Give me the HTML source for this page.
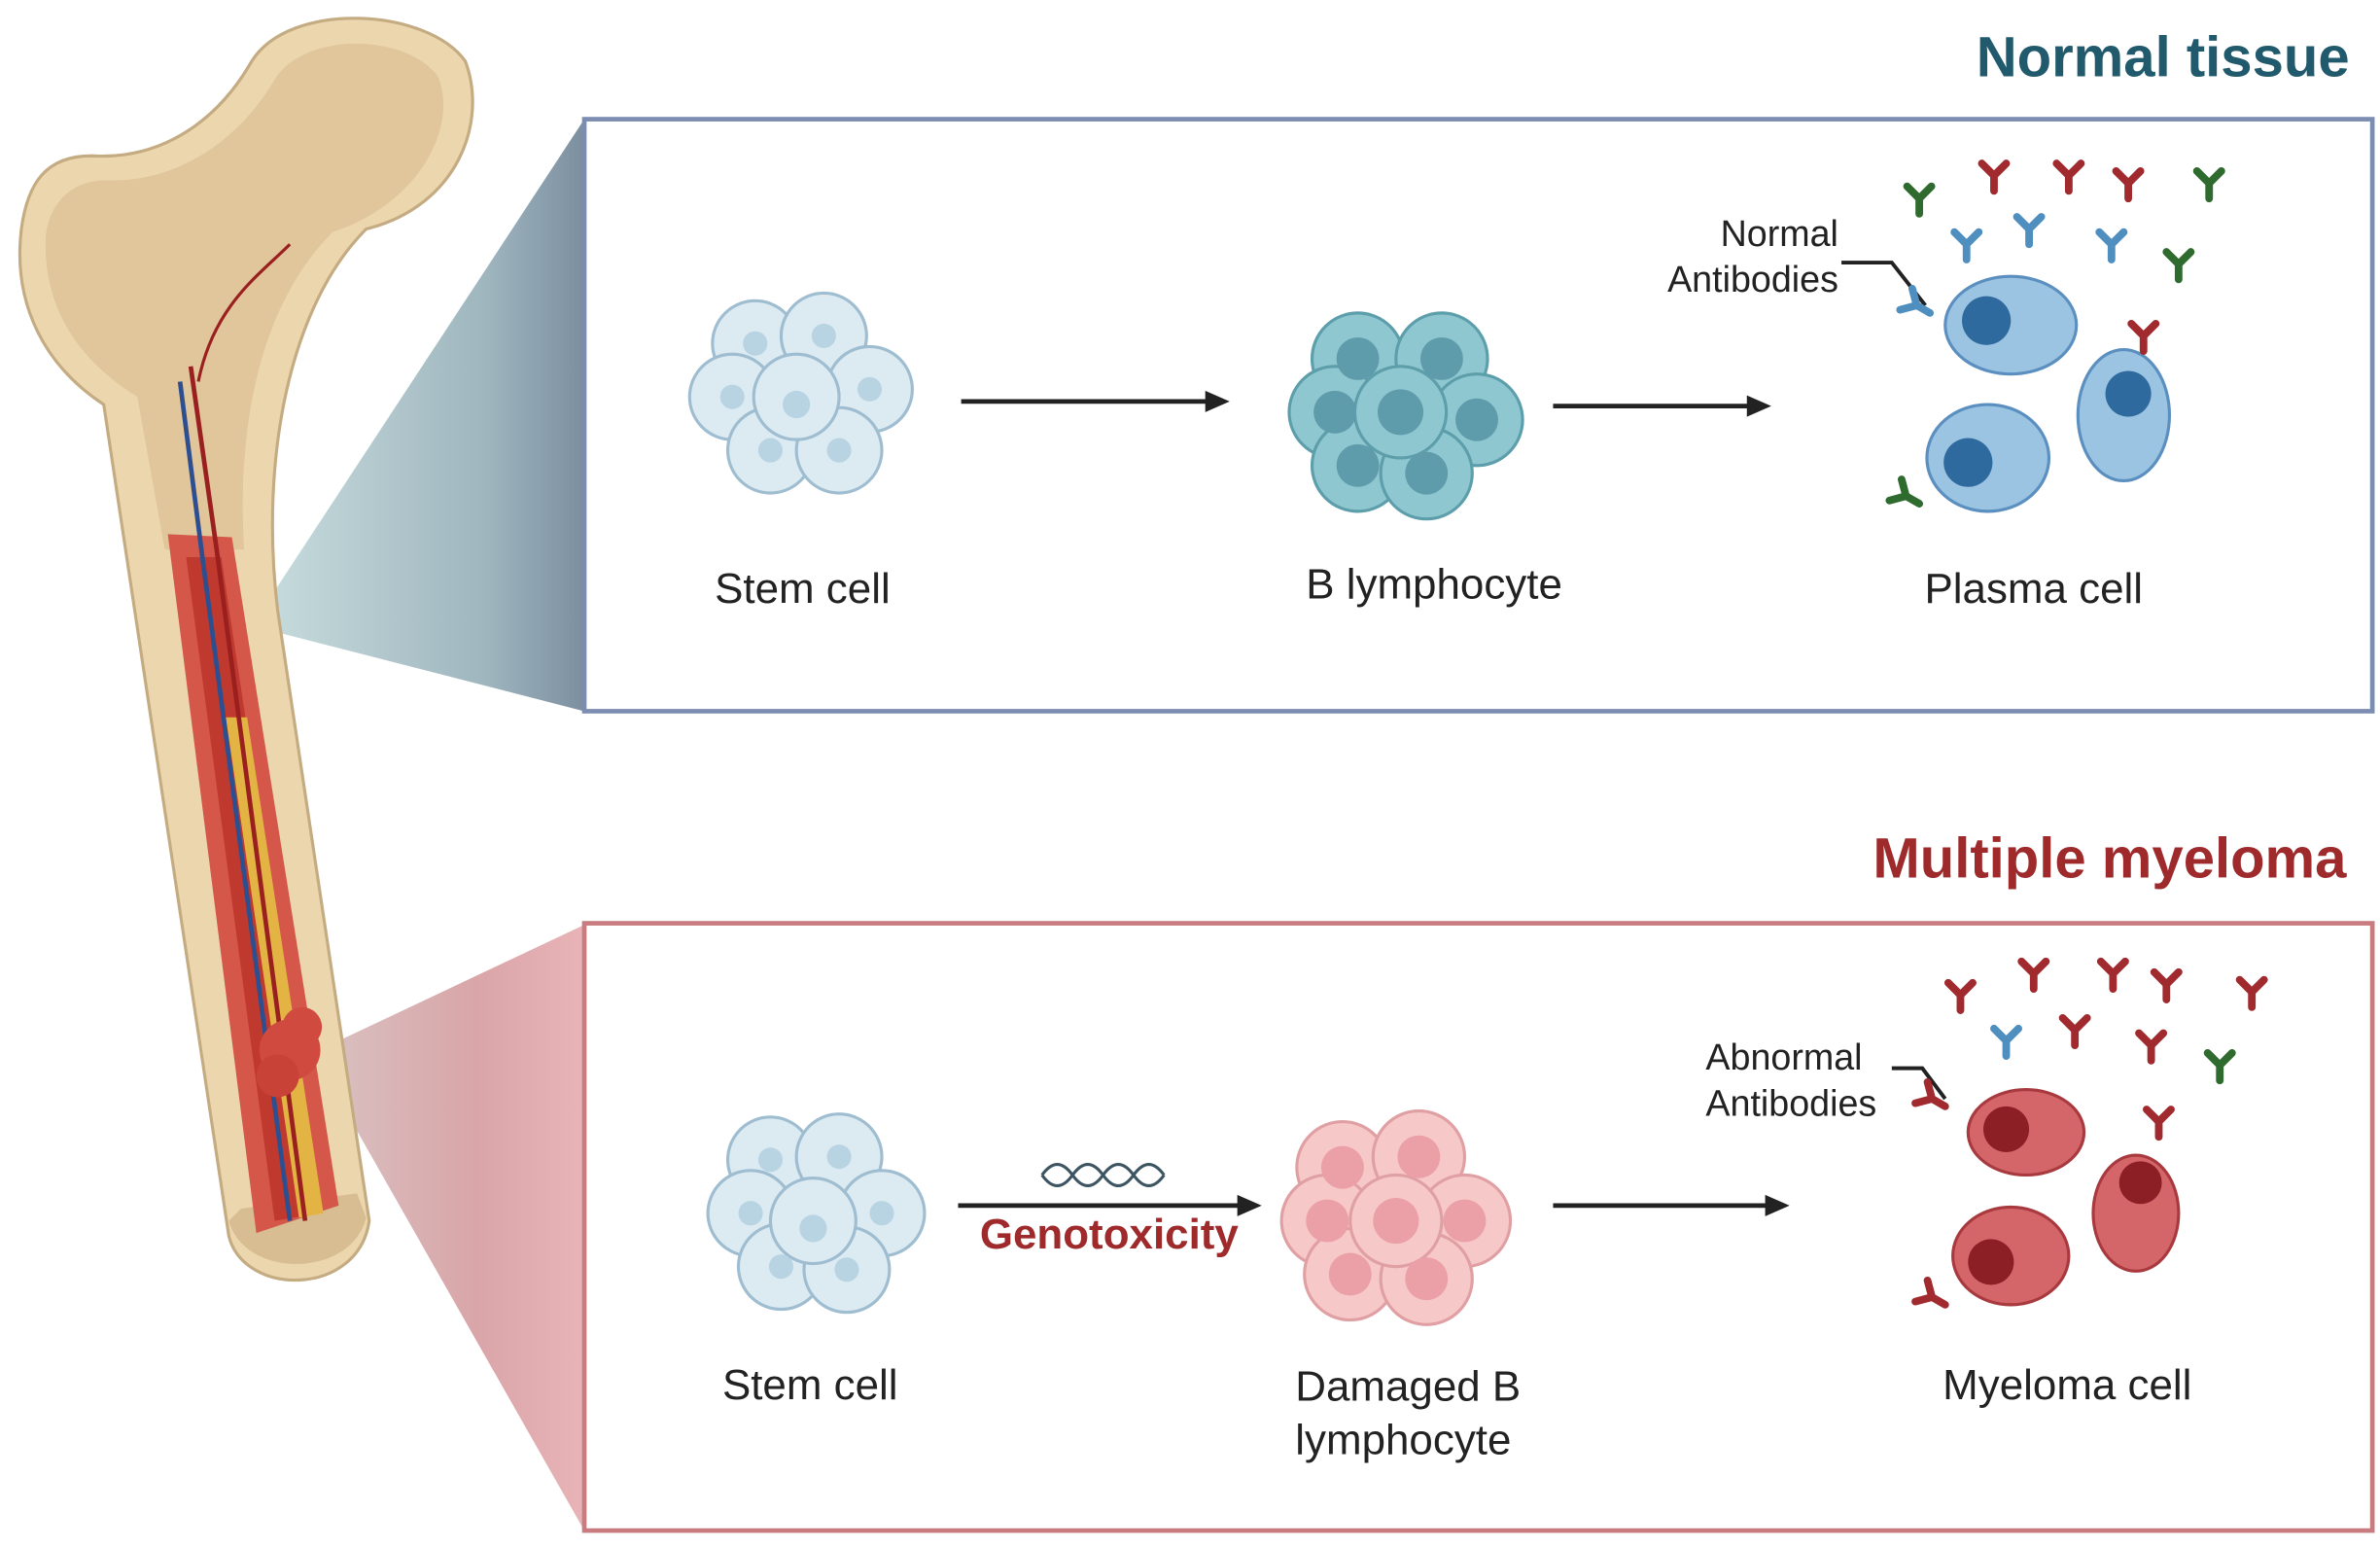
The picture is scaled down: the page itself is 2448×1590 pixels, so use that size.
<!DOCTYPE html>
<html><head><meta charset="utf-8"><style>
html,body{margin:0;padding:0;background:#fff;}
svg{display:block;}
text{font-family:"Liberation Sans",sans-serif;}
</style></head><body>
<svg width="2448" height="1590" viewBox="0 0 1560 1013" xmlns="http://www.w3.org/2000/svg">
<defs>
<linearGradient id="gt" x1="0" x2="1" y1="0" y2="0"><stop offset="0" stop-color="#c9dede"/><stop offset="0.7" stop-color="#9fb6bf"/><stop offset="1" stop-color="#7c8fa0"/></linearGradient>
<linearGradient id="gb" x1="0" x2="1" y1="0" y2="0"><stop offset="0" stop-color="#d9c3c3"/><stop offset="0.6" stop-color="#d9a5a8"/><stop offset="1" stop-color="#e8b4b7"/></linearGradient>
<g id="ab"><path d="M0,0 L0,-10 M0,-10 L-8,-18 M0,-10 L8,-18" stroke-width="5" stroke-linecap="round" fill="none"/></g>
</defs>
<polygon points="165,410 383,78 383,466" fill="url(#gt)"/>
<polygon points="205,690 383,606 383,1003" fill="url(#gb)"/>
<rect x="383" y="78" width="1172" height="388" fill="#fff" stroke="#7d8db2" stroke-width="3"/>
<rect x="383" y="605" width="1172" height="398" fill="#fff" stroke="#c97c80" stroke-width="3"/>
<text x="1540" y="50" text-anchor="end" font-size="37" font-weight="bold" fill="#215a6d">Normal tissue</text>
<text x="1538" y="575" text-anchor="end" font-size="37" font-weight="bold" fill="#9e2a2c">Multiple myeloma</text>
<!-- bone -->
<path d="M14,150 C8,200 30,240 68,265 L150,810 C160,850 235,850 242,800 L182,400 C170,300 190,200 240,150 C300,135 320,80 305,40 C280,5 190,0 165,40 C145,75 110,105 60,102 C30,102 18,120 14,150 Z" fill="#ecd6ae" stroke="#c4ab82" stroke-width="2"/>
<path d="M30,155 C28,200 50,235 90,260 L108,360 L160,360 C155,280 170,200 218,152 C278,132 300,80 287,50 C267,22 200,20 180,52 C160,87 120,120 70,118 C45,118 32,135 30,155 Z" fill="#ddbf94" opacity="0.75"/>
<path d="M150,800 C160,838 230,838 240,798 L234,782 L158,792 Z" fill="#d8bd93"/>
<polygon points="110,350 152,352 222,790 168,808" fill="#d4574a"/>
<polygon points="122,365 145,365 210,795 180,800" fill="#c0392e"/>
<polygon points="148,470 162,470 212,795 196,798" fill="#e3b443"/>
<path d="M118,250 L132,360 L190,800" stroke="#2e4f8f" stroke-width="3" fill="none"/>
<path d="M125,240 L142,360 L200,800" stroke="#9a2020" stroke-width="3" fill="none"/>
<path d="M130,250 C140,200 170,180 190,160" stroke="#9a2020" stroke-width="2" fill="none"/>
<circle cx="190" cy="688" r="20" fill="#d04a40"/><circle cx="182" cy="705" r="14" fill="#c94238"/><circle cx="198" cy="673" r="13" fill="#d04a40"/>
<g fill="#dceaf2" stroke="#9fbdd0" stroke-width="2">
<circle cx="495" cy="225" r="28"/><circle cx="540" cy="220" r="28"/><circle cx="570" cy="255" r="28"/><circle cx="480" cy="260" r="28"/><circle cx="505" cy="295" r="28"/><circle cx="550" cy="295" r="28"/><circle cx="522" cy="260" r="28"/></g>
<g fill="#b8d4e3"><circle cx="495" cy="225" r="8"/><circle cx="540" cy="220" r="8"/><circle cx="570" cy="255" r="8"/><circle cx="480" cy="260" r="8"/><circle cx="505" cy="295" r="8"/><circle cx="550" cy="295" r="8"/><circle cx="522" cy="265" r="9"/></g>
<g fill="#8fc7d1" stroke="#5d9eab" stroke-width="2">
<circle cx="890" cy="235" r="30"/><circle cx="945" cy="235" r="30"/><circle cx="968" cy="275" r="30"/><circle cx="875" cy="270" r="30"/><circle cx="890" cy="305" r="30"/><circle cx="935" cy="310" r="30"/><circle cx="918" cy="270" r="30"/></g>
<g fill="#5f9cab"><circle cx="890" cy="235" r="14"/><circle cx="945" cy="235" r="14"/><circle cx="968" cy="275" r="14"/><circle cx="875" cy="270" r="14"/><circle cx="890" cy="305" r="14"/><circle cx="935" cy="310" r="14"/><circle cx="918" cy="270" r="15"/></g>
<g fill="#9bc3e2" stroke="#5a8fbf" stroke-width="2">
<ellipse cx="1318" cy="213" rx="43" ry="32"/><ellipse cx="1303" cy="300" rx="40" ry="35"/><ellipse cx="1392" cy="272" rx="30" ry="43"/></g>
<g fill="#2f6a9e"><circle cx="1302" cy="210" r="16"/><circle cx="1290" cy="303" r="16"/><circle cx="1395" cy="258" r="15"/></g>
<g stroke="#222" stroke-width="3"><line x1="630" y1="263" x2="795" y2="263"/><line x1="1018" y1="266" x2="1150" y2="266"/><line x1="628" y1="790" x2="815" y2="790"/><line x1="1018" y1="790" x2="1162" y2="790"/></g>
<g fill="#222"><polygon points="806,263 790,256 790,270"/><polygon points="1161,266 1145,259 1145,273"/><polygon points="827,790 811,783 811,797"/><polygon points="1173,790 1157,783 1157,797"/></g>
<g font-size="28" fill="#222">
<text x="526" y="395" text-anchor="middle">Stem cell</text>
<text x="940" y="392" text-anchor="middle">B lymphocyte</text>
<text x="1333" y="395" text-anchor="middle">Plasma cell</text>
<text x="531" y="917" text-anchor="middle">Stem cell</text>
<text x="849" y="918">Damaged B</text>
<text x="849" y="953">lymphocyte</text>
<text x="1355" y="917" text-anchor="middle">Myeloma cell</text>
</g>
<g font-size="24" fill="#222">
<text x="1205" y="161" text-anchor="end">Normal</text>
<text x="1205" y="191" text-anchor="end">Antibodies</text>
<text x="1118" y="701">Abnormal</text>
<text x="1118" y="731">Antibodies</text>
</g>
<path d="M1207,172 L1240,172 L1262,200" stroke="#222" stroke-width="2.5" fill="none"/>
<path d="M1240,700 L1260,700 L1275,720" stroke="#222" stroke-width="2.5" fill="none"/>
<text x="727" y="818" text-anchor="middle" font-size="28" font-weight="bold" fill="#9e2a2c">Genotoxicity</text>
<path d="M683,770 q10,-14 20,0 t20,0 t20,0 t20,0 M683,770 q10,14 20,0 t20,0 t20,0 t20,0" stroke="#3d5563" stroke-width="2" fill="none"/>
<g stroke="#2f6b2f"><use href="#ab" x="1258" y="140"/><use href="#ab" x="1448" y="130"/><use href="#ab" x="1428" y="183"/><use href="#ab" x="1258" y="330" transform="rotate(-60 1258 330)"/></g>
<g stroke="#a02a2e"><use href="#ab" x="1307" y="125"/><use href="#ab" x="1356" y="125"/><use href="#ab" x="1395" y="130"/><use href="#ab" x="1405" y="230"/></g>
<g stroke="#4f8fbf"><use href="#ab" x="1289" y="170"/><use href="#ab" x="1330" y="160"/><use href="#ab" x="1384" y="170"/><use href="#ab" x="1265" y="205" transform="rotate(-60 1265 205)"/></g>
<g fill="#f7c8c8" stroke="#e0a0a3" stroke-width="2">
<circle cx="880" cy="765" r="30"/><circle cx="930" cy="758" r="30"/><circle cx="960" cy="800" r="30"/><circle cx="870" cy="800" r="30"/><circle cx="885" cy="835" r="30"/><circle cx="935" cy="838" r="30"/><circle cx="915" cy="800" r="30"/></g>
<g fill="#eaa0a6"><circle cx="880" cy="765" r="14"/><circle cx="930" cy="758" r="14"/><circle cx="960" cy="800" r="14"/><circle cx="870" cy="800" r="14"/><circle cx="885" cy="835" r="14"/><circle cx="935" cy="838" r="14"/><circle cx="915" cy="800" r="15"/></g>
<g fill="#dceaf2" stroke="#9fbdd0" stroke-width="2">
<circle cx="505" cy="760" r="28"/><circle cx="550" cy="758" r="28"/><circle cx="578" cy="795" r="28"/><circle cx="492" cy="795" r="28"/><circle cx="512" cy="830" r="28"/><circle cx="555" cy="832" r="28"/><circle cx="533" cy="800" r="28"/></g>
<g fill="#b8d4e3"><circle cx="505" cy="760" r="8"/><circle cx="550" cy="758" r="8"/><circle cx="578" cy="795" r="8"/><circle cx="492" cy="795" r="8"/><circle cx="512" cy="830" r="8"/><circle cx="555" cy="832" r="8"/><circle cx="533" cy="805" r="9"/></g>
<g fill="#d4666a" stroke="#a83a3f" stroke-width="2">
<ellipse cx="1328" cy="742" rx="38" ry="28"/><ellipse cx="1318" cy="823" rx="38" ry="32"/><ellipse cx="1400" cy="795" rx="28" ry="38"/></g>
<g fill="#8c1f26"><circle cx="1315" cy="740" r="15"/><circle cx="1305" cy="827" r="15"/><circle cx="1403" cy="775" r="14"/></g>
<g stroke="#a02a2e"><use href="#ab" x="1285" y="662"/><use href="#ab" x="1333" y="648"/><use href="#ab" x="1385" y="648"/><use href="#ab" x="1420" y="655"/><use href="#ab" x="1476" y="660"/><use href="#ab" x="1360" y="685"/><use href="#ab" x="1410" y="695"/><use href="#ab" x="1415" y="745"/><use href="#ab" x="1275" y="855" transform="rotate(-60 1275 855)"/><use href="#ab" x="1275" y="725" transform="rotate(-60 1275 725)"/></g>
<g stroke="#4f8fbf"><use href="#ab" x="1315" y="692"/></g>
<g stroke="#2f6b2f"><use href="#ab" x="1455" y="708"/></g>
</svg>
</body></html>
